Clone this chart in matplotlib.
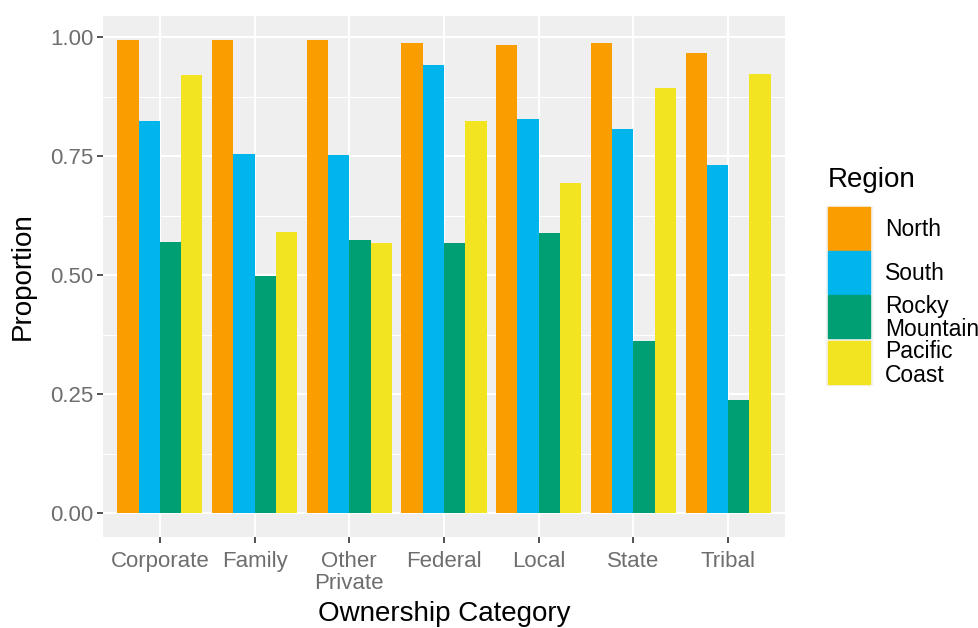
import numpy as np
import matplotlib.pyplot as plt
from matplotlib.patches import Rectangle

plt.rcParams['font.family'] = ['Liberation Sans', 'DejaVu Sans']

categories = ["Corporate", "Family", "Other\nPrivate", "Federal", "Local", "State", "Tribal"]
regions = ["North", "South", "Rocky\nMountain", "Pacific\nCoast"]
north = [0.995, 0.995, 0.995, 0.988, 0.983, 0.988, 0.968]
south = [0.825, 0.756, 0.752, 0.941, 0.829, 0.808, 0.731]
rocky = [0.571, 0.499, 0.575, 0.568, 0.589, 0.362, 0.238]
pacific = [0.920, 0.592, 0.568, 0.825, 0.693, 0.893, 0.924]
colors = ["#F99D00", "#00B5EC", "#009E73", "#F3E421"]

W, H = 979, 628
fig = plt.figure(figsize=(W / 100, H / 100), dpi=100)
ax = fig.add_axes([103 / W, (H - 537) / H, (785 - 103) / W, (537 - 16) / H])
ax.set_facecolor("#EFEFEF")

x = np.arange(1, len(categories) + 1)
bw = 0.9 / 4
for i, vals in enumerate([north, south, rocky, pacific]):
    ax.bar(x - 0.45 + bw * (i + 0.5), vals, width=bw, color=colors[i], zorder=3)

ax.set_xlim(0.4, 7.6)
ax.set_ylim(-0.05, 1.045)
ax.set_xticks(x)
ax.set_xticklabels(categories, fontsize=16, color="#6E6E6E", linespacing=1.1)
ax.set_yticks([0, 0.25, 0.5, 0.75, 1.0])
ax.set_yticklabels(["0.00", "0.25", "0.50", "0.75", "1.00"], fontsize=16, color="#6E6E6E")
ax.set_yticks([0.125, 0.375, 0.625, 0.875], minor=True)
ax.grid(which="major", color="white", linewidth=1.5, zorder=0)
ax.grid(which="minor", axis="y", color="white", linewidth=0.8, zorder=0)
ax.tick_params(which="major", length=4, width=1.2, color="#333333", pad=3)
ax.tick_params(axis="x", which="major", pad=6)
ax.tick_params(which="minor", length=0)
for s in ax.spines.values():
    s.set_visible(False)
ax.set_axisbelow(True)

ax.set_xlabel("Ownership Category", fontsize=20, labelpad=5)
ax.set_ylabel("Proportion", fontsize=20, labelpad=10)

# legend drawn by hand
fig.text(828 / W, 1 - 180 / H, "Region", fontsize=20, va="center", ha="left")
key_top = [207, 251, 295, 341]
key_h = 43
for i, (lab, c) in enumerate(zip(regions, colors)):
    y0 = key_top[i]
    fig.patches.append(Rectangle((826 / W, 1 - (y0 + key_h + 1) / H), 46 / W, (key_h + 2) / H,
                                 transform=fig.transFigure, color="#F2F2F2", zorder=1))
    fig.patches.append(Rectangle((828 / W, 1 - (y0 + key_h) / H), 42 / W, key_h / H,
                                 transform=fig.transFigure, color=c, zorder=2))
    fig.text(885 / W, 1 - (y0 + key_h / 2 + 1) / H, lab, fontsize=16.5, va="center", ha="left",
             linespacing=1.0)

fig.savefig("out.png", dpi=100)
